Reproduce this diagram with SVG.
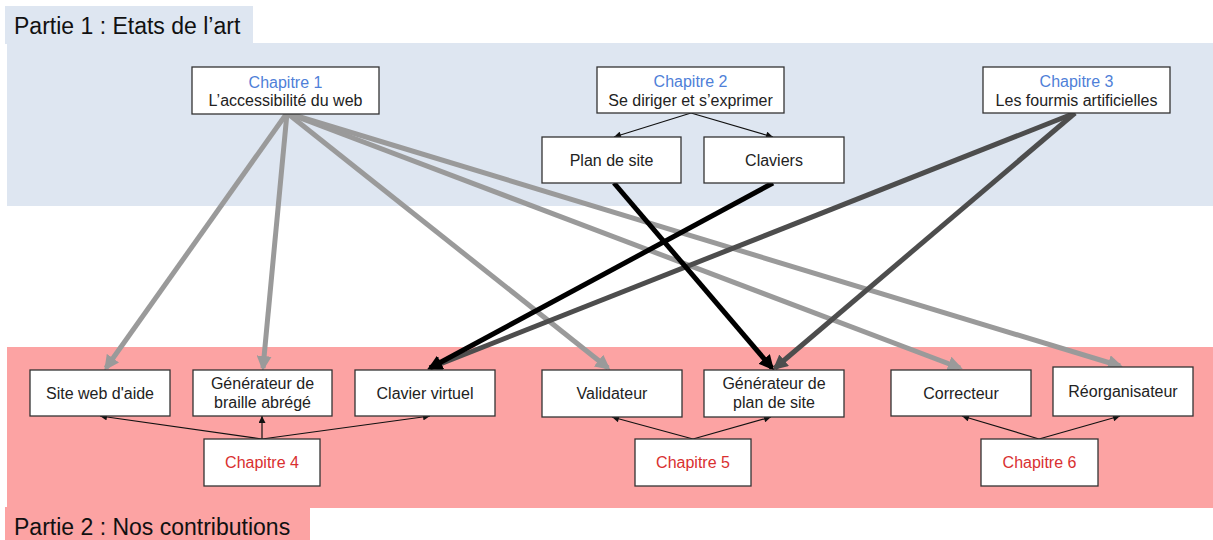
<svg xmlns="http://www.w3.org/2000/svg" width="1213" height="540" viewBox="0 0 1213 540">
<style>
text{font-family:"Liberation Sans",Arial,sans-serif;font-size:16px;fill:#222;text-anchor:middle}
.box{fill:#fff;stroke:#333;stroke-width:1.3}
.blue{fill:#4f7fd8}
.red{fill:#d93030}
.part{font-size:23px;text-anchor:start;fill:#111}
.thin{stroke:#111;stroke-width:1.2;fill:none}
.gray{stroke:#9a9a9a;stroke-width:5;fill:none}
.black{stroke:#000;stroke-width:5;fill:none}
.dark{stroke:#4d4d4d;stroke-width:5;fill:none}
</style>
<defs>
<marker id="ah" viewBox="0 0 10 10" refX="10" refY="5" markerWidth="8" markerHeight="7" markerUnits="userSpaceOnUse" orient="auto"><path d="M0,0 L10,5 L0,10 z" fill="#111"/></marker>
<marker id="ag" viewBox="0 0 10 10" refX="8" refY="5" markerWidth="3" markerHeight="3" orient="auto"><path d="M0,0 L10,5 L0,10 z" fill="#9a9a9a"/></marker>
<marker id="ab" viewBox="0 0 10 10" refX="8" refY="5" markerWidth="3" markerHeight="3" orient="auto"><path d="M0,0 L10,5 L0,10 z" fill="#000"/></marker>
<marker id="ad" viewBox="0 0 10 10" refX="8" refY="5" markerWidth="3" markerHeight="3" orient="auto"><path d="M0,0 L10,5 L0,10 z" fill="#4d4d4d"/></marker>
</defs>
<g id="backgrounds">
<rect x="5" y="6" width="248" height="38" fill="#dee6f1"/>
<rect x="7" y="43" width="1206" height="163" fill="#dee6f1"/>
<rect x="7" y="347" width="1206" height="161" fill="#fca3a3"/>
<rect x="5" y="507" width="305" height="33" fill="#fca3a3"/>
<text class="part" x="14" y="34">Partie 1 : Etats de l’art</text>
<text class="part" x="14" y="535">Partie 2 : Nos contributions</text>
</g>
<g id="connectors">
<path class="gray" d="M287,113 L106,368" marker-end="url(#ag)"/>
<path class="gray" d="M287,113 L263,368" marker-end="url(#ag)"/>
<path class="gray" d="M287,113 L608,368" marker-end="url(#ag)"/>
<path class="gray" d="M287,113 L960,368" marker-end="url(#ag)"/>
<path class="gray" d="M287,113 L1120,366" marker-end="url(#ag)"/>
<path class="dark" d="M1075,113 L430,368" marker-end="url(#ad)"/>
<path class="dark" d="M1075,113 L775,368" marker-end="url(#ad)"/>
<path class="black" d="M614,183 L772,368" marker-end="url(#ab)"/>
<path class="black" d="M773,183 L430,368" marker-end="url(#ab)"/>
<path class="thin" d="M691,113 L614,137" marker-end="url(#ah)"/>
<path class="thin" d="M691,113 L773,137" marker-end="url(#ah)"/>
<path class="thin" d="M262,439 L100,416" marker-end="url(#ah)"/>
<path class="thin" d="M262,439 L262,416" marker-end="url(#ah)"/>
<path class="thin" d="M262,439 L430,416" marker-end="url(#ah)"/>
<path class="thin" d="M693,439 L612,417" marker-end="url(#ah)"/>
<path class="thin" d="M693,439 L771,417" marker-end="url(#ah)"/>
<path class="thin" d="M1039,439 L962,416" marker-end="url(#ah)"/>
<path class="thin" d="M1039,439 L1120,416" marker-end="url(#ah)"/>
</g>
<g id="ch1"><rect class="box" x="192" y="67" width="187" height="47"/><text class="blue" x="285.5" y="88">Chapitre 1</text><text x="285.5" y="106">L’accessibilité du web</text></g>
<g id="ch2"><rect class="box" x="597" y="67" width="187" height="46"/><text class="blue" x="690.5" y="87">Chapitre 2</text><text x="690.5" y="106">Se diriger et s’exprimer</text></g>
<g id="ch3"><rect class="box" x="983" y="67" width="187" height="46"/><text class="blue" x="1076.5" y="87">Chapitre 3</text><text x="1076.5" y="106">Les fourmis artificielles</text></g>
<g id="plan"><rect class="box" x="542" y="137" width="139" height="46"/><text x="611.5" y="166">Plan de site</text></g>
<g id="claviers"><rect class="box" x="704" y="137" width="140" height="46"/><text x="774" y="166">Claviers</text></g>
<g id="siteweb"><rect class="box" x="30" y="370" width="140" height="46"/><text x="100" y="399">Site web d'aide</text></g>
<g id="braille"><rect class="box" x="193" y="370" width="139" height="46"/><text x="262.5" y="389">Générateur de</text><text x="262.5" y="408">braille abrégé</text></g>
<g id="clavierv"><rect class="box" x="355" y="370" width="140" height="46"/><text x="425" y="399">Clavier virtuel</text></g>
<g id="valid"><rect class="box" x="542" y="370" width="140" height="47"/><text x="612" y="399">Validateur</text></g>
<g id="genplan"><rect class="box" x="704" y="370" width="140" height="47"/><text x="774" y="389">Générateur de</text><text x="774" y="408">plan de site</text></g>
<g id="correct"><rect class="box" x="891" y="370" width="140" height="46"/><text x="961" y="399">Correcteur</text></g>
<g id="reorg"><rect class="box" x="1053" y="367" width="140" height="49"/><text x="1123" y="397">Réorganisateur</text></g>
<g id="ch4"><rect class="box" x="204" y="439" width="116" height="47"/><text class="red" x="262" y="468">Chapitre 4</text></g>
<g id="ch5"><rect class="box" x="635" y="439" width="116" height="47"/><text class="red" x="693" y="468">Chapitre 5</text></g>
<g id="ch6"><rect class="box" x="981" y="439" width="117" height="47"/><text class="red" x="1039.5" y="468">Chapitre 6</text></g>
</svg>
